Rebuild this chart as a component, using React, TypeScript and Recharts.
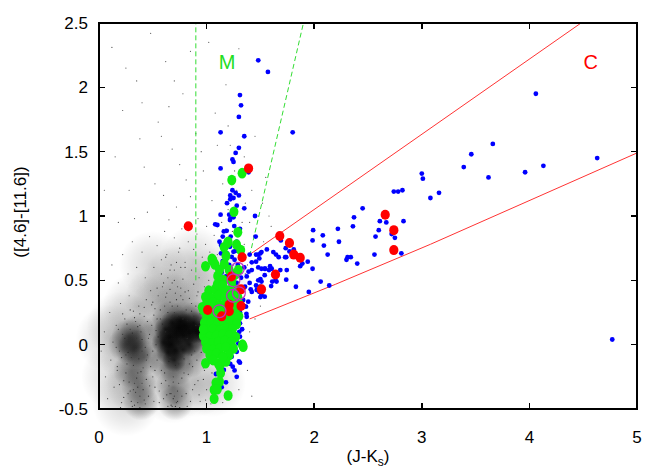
import React from 'react';
import { ScatterChart, Scatter, XAxis, YAxis, ReferenceDot } from 'recharts';

type P = [number, number];
const toPts = (a: P[]) => a.map(([x, y]) => ({ x, y }));

const xTicks = [0, 1, 2, 3, 4, 5];
const yTicks = [-0.5, 0, 0.5, 1, 1.5, 2, 2.5];
const xTickLabels = ['0', '1', '2', '3', '4', '5'];
const yTickLabels = ['-0.5', '0', '0.5', '1', '1.5', '2', '2.5'];
const xDomain: [number, number] = [0, 5];
const yDomain: [number, number] = [-0.5, 2.5];

// diffuse density of the field-star cloud
const softLarge: P[] = [
  [0.15, -0.25], [0.2, 0.15], [0.35, 0.3], [0.38, -0.3], [0.5, -0.1], [0.55, 0.35], [0.72, 0.5], [0.68, -0.35],
  [0.85, 0.35], [0.9, -0.3], [1.02, 0.1], [0.3, -0.05], [0.75, 0.05], [0.1, 0.05], [0.5, 0.62], [0.88, 0.66],
  [1.1, 0.5], [1.05, -0.3], [0.25, -0.45], [0.62, 0.3], [0.8, 0.25],
];
const softMid: P[] = [
  [0.62, 0.0], [0.72, 0.05], [0.84, 0.06], [0.66, 0.2], [0.78, 0.2], [0.64, -0.15], [0.72, -0.18], [0.69, -0.33],
  [0.71, -0.45], [0.84, -0.12], [0.56, 0.1], [0.9, 0.2], [0.95, 0.0], [0.98, 0.12],
  [0.32, -0.04], [0.36, 0.1], [0.3, -0.2], [0.37, -0.32], [0.39, -0.45], [0.25, 0.0], [0.42, -0.1],
  [0.34, -0.02], [0.28, 0.06],
];
const softSmall: P[] = [
  [0.6, 0.02], [0.66, 0.06], [0.72, 0.08], [0.78, 0.07], [0.84, 0.09], [0.9, 0.1], [0.96, 0.1], [1.0, 0.1],
  [0.64, -0.06], [0.71, -0.04], [0.78, -0.04], [0.68, 0.17], [0.76, 0.18], [0.62, 0.12], [0.84, 0.0],
  [0.7, -0.12], [0.8, 0.15], [0.88, 0.17], [0.74, 0.13], [0.67, 0.0],
];
const fieldStars: P[] = [
  [0.12, 2.31], [0.48, 2.42], [0.62, 2.2], [0.35, 2.05], [0.78, 1.95], [0.22, 1.82], [0.55, 1.73], [0.9, 1.64], [0.68, 1.52],
  [0.15, 1.46], [0.42, 1.38], [0.97, 1.35], [0.81, 1.28], [0.28, 1.2], [0.6, 1.16], [1.05, 1.12], [0.72, 1.07], [0.45, 1.03],
  [0.92, 0.98], [0.18, 0.95], [1.42, 1.2], [1.52, 1.1], [1.6, 0.92], [1.35, 1.46], [1.45, 1.62], [1.08, 1.8], [1.18, 2.02],
  [1.02, 2.35], [0.85, 2.28], [1.55, 1.3], [0.65, 1.85], [0.38, 1.6], [0.05, 1.2], [0.25, 2.15], [1.1, 1.55], [1.2, 1.7],
  [1.4, 0.95], [0.95, 1.5], [0.75, 1.4], [0.52, 1.25], [0.85, 1.15], [0.33, 0.98], [0.65, 0.97], [1.15, 1.25], [1.48, 1.0],
  [1.0, 0.92], [0.58, 1.62], [0.7, 2.05], [0.4, 1.88], [1.3, 2.3],
  [0.05, 0.5], [0.12, 0.62], [0.18, 0.48], [0.22, 0.7], [0.27, 0.55], [0.31, 0.8], [0.35, 0.6], [0.4, 0.72], [0.43, 0.52],
  [0.47, 0.84], [0.51, 0.6], [0.54, 0.77], [0.58, 0.66], [0.61, 0.88], [0.63, 0.7], [0.67, 0.62], [0.7, 0.83], [0.74, 0.72],
  [0.77, 0.9], [0.8, 0.64], [0.83, 0.8], [0.86, 0.58], [0.88, 0.74], [0.91, 0.86], [0.93, 0.52], [0.96, 0.68], [0.99, 0.78],
  [1.03, 0.72], [1.07, 0.85], [1.09, 0.48], [1.14, 0.95], [1.2, 1.05], [1.24, 0.88], [1.28, 1.2], [1.32, 0.7], [1.38, 0.62],
  [1.44, 0.85], [1.53, 0.8], [1.58, 1.0], [1.36, 1.1], [1.26, 1.35], [1.22, 1.55],
  [0.02, -0.05], [0.05, 0.1], [0.06, -0.25], [0.08, -0.42], [0.1, 0.25], [0.11, -0.12], [0.13, 0.02], [0.14, -0.33],
  [0.16, 0.15], [0.17, -0.2], [0.19, -0.05], [0.2, 0.32], [0.21, -0.45], [0.22, 0.08], [0.23, -0.28], [0.24, 0.2],
  [0.26, -0.15], [0.27, -0.38], [0.28, 0.38], [0.29, 0.12], [0.31, -0.48], [0.32, 0.26], [0.33, -0.3], [0.34, 0.18],
  [0.36, -0.22], [0.37, 0.3], [0.38, -0.4], [0.39, 0.1], [0.41, -0.18], [0.42, 0.22], [0.43, -0.46], [0.44, 0.35],
  [0.45, -0.08], [0.46, 0.05], [0.47, -0.32], [0.48, 0.42], [0.49, 0.15], [0.5, -0.25], [0.51, -0.44], [0.52, 0.28],
  [0.53, 0.0], [0.54, -0.12], [0.55, 0.38], [0.56, -0.36], [0.57, 0.2], [0.58, -0.2], [0.59, 0.45], [0.6, -0.42],
  [0.61, 0.3], [0.62, -0.28], [0.63, 0.4], [0.64, -0.48], [0.66, 0.33], [0.67, -0.38], [0.68, 0.48], [0.69, -0.25],
  [0.71, 0.4], [0.72, -0.45], [0.73, 0.3], [0.74, -0.3], [0.76, 0.44], [0.77, -0.4], [0.78, 0.35], [0.79, -0.22],
  [0.81, 0.27], [0.82, -0.48], [0.83, 0.42], [0.84, -0.15], [0.86, 0.32], [0.87, -0.35], [0.88, 0.22], [0.89, -0.05],
  [0.91, 0.38], [0.92, -0.28], [0.93, 0.15], [0.94, -0.44], [0.96, 0.3], [0.97, -0.18], [0.98, 0.45], [1.0, -0.35],
  [1.02, 0.5], [1.04, -0.46], [1.06, 0.62], [1.08, -0.4], [1.1, 0.7], [1.12, 0.55], [1.15, -0.45], [1.18, 0.9],
  [1.22, -0.42], [1.25, 0.62], [1.3, -0.35], [1.35, 0.78], [1.38, -0.2], [1.4, 0.1], [1.42, -0.4], [1.45, 0.2],
  [1.5, 0.3], [1.36, 0.55], [1.33, 0.95],
  [0.3, -0.1], [0.35, 0.05], [0.4, -0.05], [0.32, -0.35], [0.36, -0.45], [0.4, -0.3], [0.28, 0.02], [0.25, -0.08],
  [0.44, -0.12], [0.38, 0.15], [0.62, 0.1], [0.66, -0.1], [0.7, 0.25], [0.74, -0.15], [0.78, 0.2], [0.82, 0.05],
  [0.86, -0.08], [0.65, -0.32], [0.7, -0.4], [0.68, -0.48], [0.73, 0.45], [0.64, 0.52], [0.7, 0.58], [0.76, 0.6],
  [0.58, 0.1], [0.54, 0.2], [0.9, 0.15], [0.95, 0.05], [1.0, 0.12], [1.02, -0.1], [0.98, -0.2],
];
const clusterStars: P[] = [
  [0.16, -0.02], [0.18, 0.12], [0.19, -0.31], [0.21, -0.1], [0.22, 0.24], [0.23, -0.41], [0.24, 0.05], [0.25, -0.22],
  [0.26, 0.16], [0.27, -0.06], [0.28, -0.29], [0.29, 0.27], [0.3, -0.44], [0.31, 0.09], [0.32, -0.16], [0.33, 0.21],
  [0.34, -0.37], [0.35, -0.26], [0.36, 0.14], [0.37, -0.11], [0.38, 0.24], [0.39, -0.21], [0.4, 0.04], [0.41, -0.35],
  [0.42, 0.29], [0.43, -0.02], [0.44, -0.27], [0.45, 0.18], [0.46, -0.4], [0.47, 0.08], [0.48, -0.17], [0.49, 0.31],
  [0.5, -0.05], [0.51, 0.23], [0.52, -0.33], [0.53, 0.11], [0.17, -0.17], [0.2, -0.49], [0.33, -0.47], [0.38, -0.49],
  [0.42, -0.43], [0.29, -0.36], [0.36, -0.33],
  [0.5, 0.33], [0.52, -0.2], [0.54, 0.44], [0.55, 0.06], [0.56, -0.45], [0.57, 0.27], [0.58, -0.3], [0.59, 0.16],
  [0.6, 0.48], [0.61, -0.22], [0.62, 0.37], [0.63, -0.39], [0.64, 0.25], [0.65, -0.13], [0.66, 0.43], [0.67, -0.47],
  [0.68, 0.3], [0.69, -0.29], [0.7, 0.5], [0.71, -0.16], [0.72, 0.35], [0.73, -0.36], [0.74, 0.22], [0.75, -0.49],
  [0.76, 0.38], [0.77, -0.26], [0.78, 0.51], [0.79, -0.11], [0.8, 0.41], [0.81, -0.38], [0.82, 0.19], [0.83, -0.23],
  [0.84, 0.36], [0.85, -0.44], [0.86, 0.26], [0.87, -0.17], [0.88, 0.47], [0.89, -0.31], [0.9, 0.3], [0.91, -0.12],
  [0.92, 0.41], [0.93, -0.39], [0.94, 0.24], [0.95, -0.06], [0.96, 0.37], [0.97, -0.27], [0.98, 0.19], [0.99, -0.43],
  [1.0, 0.32], [1.01, 0.03], [1.03, 0.24], [1.05, -0.22], [1.07, 0.38], [1.09, -0.02], [1.11, 0.47], [1.13, -0.34],
  [0.66, 0.58], [0.72, 0.64], [0.58, 0.55], [0.8, 0.6], [0.62, 0.68], [0.75, 0.75], [0.69, -0.42], [0.71, -0.48],
  [0.66, -0.38], [0.73, -0.44],
];

const blueStars: P[] = [
  [1.48, 2.21], [1.57, 2.12], [1.8, 1.65], [4.06, 1.95], [3.66, 1.56], [3.46, 1.48], [3.39, 1.38], [3.62, 1.3],
  [3.96, 1.34], [4.13, 1.39], [4.63, 1.45], [3.08, 1.14], [3.16, 1.18], [4.77, 0.04],
  [3.0, 1.33], [3.01, 1.29], [2.74, 1.19], [2.78, 1.19], [2.82, 1.2], [2.45, 1.06], [2.37, 0.99], [2.36, 0.92],
  [2.61, 0.96], [2.67, 0.95], [2.83, 0.96], [2.6, 0.89], [2.57, 0.84], [2.72, 0.86], [2.75, 0.83], [2.81, 0.71],
  [2.56, 0.7], [2.31, 0.68], [2.3, 0.66], [2.34, 0.68], [2.4, 0.63], [2.22, 0.9], [2.23, 0.8], [2.08, 0.85],
  [2.09, 0.77], [1.99, 0.89], [1.985, 0.81], [2.125, 0.7], [2.06, 0.49], [2.14, 0.46], [1.95, 0.41], [1.985, 0.59],
  [1.94, 0.645], [1.89, 0.63], [1.87, 0.61], [1.83, 0.45], [1.81, 0.74], [1.77, 0.725], [1.735, 0.75], [1.74, 0.68],
  [1.745, 0.58], [1.74, 0.505], [1.685, 0.58], [1.65, 0.49], [1.69, 0.81], [1.62, 0.72], [1.645, 0.7], [1.67, 0.68],
  [1.73, 0.68], [1.59, 0.61], [1.605, 0.59], [1.58, 0.58], [1.61, 0.49], [1.545, 0.59], [1.51, 0.72], [1.56, 0.74],
  [1.48, 0.7], [1.46, 0.7], [1.456, 0.84],
  [1.45, 1.0], [1.5, 0.71], [1.49, 0.67], [1.48, 0.6], [1.51, 0.59], [1.54, 0.54], [1.5, 0.51], [1.46, 0.46],
  [1.49, 0.41], [1.5, 0.37], [1.41, 0.43], [1.42, 0.41], [1.64, 0.5], [1.6, 0.455], [1.54, 0.59], [1.42, 0.64],
  [1.46, 0.645], [1.39, 0.567], [1.42, 0.58], [1.373, 0.53], [1.48, 0.5], [1.51, 0.49], [1.4, 0.48], [1.357, 0.45],
  [1.496, 0.45], [1.466, 0.425], [1.51, 0.386], [1.54, 0.373], [1.34, 0.347], [1.387, 0.334], [1.366, 0.295],
  [1.373, 0.217], [1.37, 0.24], [1.4, 0.7],
  [1.31, 1.94], [1.32, 1.86], [1.3, 1.77], [1.13, 1.65], [1.35, 1.62], [1.3, 1.53], [1.27, 1.49], [1.24, 1.44],
  [1.25, 1.42], [1.13, 1.37], [1.39, 1.34], [1.24, 1.2], [1.27, 1.18], [1.22, 1.16], [1.3, 1.16], [1.22, 1.13],
  [1.25, 1.14], [1.19, 1.1], [1.28, 1.08], [1.35, 1.06], [1.13, 1.01], [1.21, 1.01], [1.25, 0.99], [1.22, 0.98],
  [1.1, 0.93], [1.217, 0.968], [1.257, 0.922], [1.187, 0.885], [1.15, 0.84], [1.224, 0.84], [1.08, 0.935],
  [1.134, 0.774], [1.217, 0.761], [1.25, 0.722], [1.134, 0.71], [1.17, 0.683], [1.233, 0.683], [1.15, 0.65],
  [1.21, 0.62], [1.26, 0.66], [1.14, 0.56], [1.18, 0.53], [1.233, 0.567], [1.295, 0.217], [1.31, 0.166],
  [1.28, 0.14], [1.304, 0.1], [1.31, 0.062], [1.295, 0.01], [1.248, -0.028], [1.28, -0.055], [1.2, -0.055],
  [1.233, -0.094], [1.31, -0.14], [1.243, -0.171], [1.16, -0.197], [1.087, -0.228], [1.125, -0.171], [1.18, -0.293],
  [1.22, 0.01], [1.26, 0.04], [1.3, -0.13], [1.28, -0.25], [1.14, -0.33], [1.27, 0.3], [1.3, 0.38], [1.25, 0.44],
  [1.32, 0.52], [1.28, 0.48], [1.19, 0.4], [1.31, 0.25], [1.29, 0.62], [1.2, 0.78], [1.28, 0.8], [1.16, 0.88],
  [1.31, 0.9], [1.12, 0.8], [1.27, 0.73], [1.19, 0.71], [1.35, 0.6], [1.33, 0.44], [1.26, 0.35], [1.23, 0.2],
  [1.28, 0.08], [1.22, -0.15], [1.26, -0.2], [1.19, -0.12], [1.33, 0.12], [1.35, 0.3],
];

const greenStars: P[] = [
  [1.02, 0.42], [1.08, 0.43], [1.14, 0.41], [1.2, 0.42], [1.26, 0.43],
  [0.99, 0.37], [1.05, 0.36], [1.11, 0.38], [1.17, 0.37], [1.23, 0.36], [1.29, 0.37],
  [1.0, 0.32], [1.06, 0.33], [1.12, 0.31], [1.18, 0.32], [1.24, 0.33], [1.3, 0.32],
  [0.97, 0.27], [1.03, 0.27], [1.09, 0.28], [1.15, 0.26], [1.21, 0.27], [1.27, 0.28],
  [1.0, 0.22], [1.06, 0.21], [1.12, 0.22], [1.18, 0.23], [1.24, 0.21], [1.3, 0.22],
  [0.98, 0.17], [1.04, 0.17], [1.1, 0.16], [1.16, 0.18], [1.22, 0.17], [1.28, 0.16],
  [1.0, 0.12], [1.06, 0.12], [1.12, 0.11], [1.18, 0.13], [1.24, 0.12],
  [0.97, 0.07], [1.03, 0.06], [1.09, 0.07], [1.15, 0.08], [1.21, 0.07], [1.27, 0.06],
  [0.99, 0.02], [1.05, 0.01], [1.11, 0.02], [1.17, 0.03], [1.23, 0.02],
  [1.0, -0.03], [1.06, -0.04], [1.12, -0.03], [1.18, -0.02], [1.25, -0.03],
  [1.03, -0.08], [1.09, -0.07], [1.15, -0.09], [1.21, -0.08],
  [0.99, 0.61], [1.05, 0.667], [1.06, 0.65], [1.163, 0.757], [1.18, 0.69], [1.2, 0.8], [1.278, 0.778], [1.29, 0.873],
  [1.254, 1.033], [1.234, 1.279], [1.33, 1.333], [1.196, 0.792], [1.317, 0.735], [1.057, 0.652], [1.078, 0.624],
  [1.165, 0.627], [1.295, 0.58], [1.103, 0.533], [1.155, 0.502], [1.233, 0.489], [1.1, 0.47], [1.15, 0.46],
  [1.27, 0.55], [1.21, 0.58], [1.12, 0.58], [1.24, 0.52], [0.96, 0.29], [0.97, 0.12],
  [1.333, 0.0], [0.99, -0.144], [1.11, -0.146], [1.123, -0.167], [1.13, -0.22], [1.12, -0.288], [1.087, -0.296],
  [1.07, -0.35], [1.1, -0.347], [1.07, -0.42], [1.2, -0.395], [1.34, -0.016], [1.06, -0.12], [1.18, -0.13], [1.15, -0.1],
];

const redStars: P[] = [
  [0.83, 0.92], [1.39, 1.37], [1.68, 0.845], [1.77, 0.79], [1.81, 0.7], [1.87, 0.675], [1.64, 0.545], [1.51, 0.43],
  [2.66, 1.01], [2.74, 0.89], [2.74, 0.735], [1.33, 0.68], [1.23, 0.53], [1.32, 0.43], [1.32, 0.3], [1.21, 0.31],
  [1.21, 0.26], [1.14, 0.22], [1.01, 0.27],
];

const magentaRings: P[] = [[1.29, 0.59], [1.25, 0.5], [1.245, 0.38], [1.3, 0.4], [1.12, 0.26]];

const mLeftBoundary: P[] = [[0.9, 0.5], [0.9, 2.5]];
const mRightBoundary: P[] = [[1.4, 0.69], [1.9, 2.5]];
const cUpperBoundary: P[] = [[1.4, 0.7], [4.48, 2.5]];
const cLowerBoundary: P[] = [[1.4, 0.2], [2.2, 0.47], [3.08, 0.78], [5.0, 1.49]];

const FONT = '"Liberation Sans", Arial, Helvetica, sans-serif';

// chart layout
const W = 670, H = 470;
const M = { top: 23, right: 33 };
const Y_AXIS_W = 99, X_AXIS_H = 61;
const PLOT = { x: Y_AXIS_W, y: M.top, w: W - Y_AXIS_W - M.right, h: H - M.top - X_AXIS_H };

const soft = (r: number, op: number) => (p: any) => (
  <g>
    <defs>
      <radialGradient id="softBlob">
        <stop offset="0%" stopColor="#000" stopOpacity={0.9} />
        <stop offset="60%" stopColor="#000" stopOpacity={0.4} />
        <stop offset="100%" stopColor="#000" stopOpacity={0} />
      </radialGradient>
    </defs>
    <circle cx={p.cx} cy={p.cy} r={r} fill="url(#softBlob)" fillOpacity={op} />
  </g>
);
const dot = (r: number, fill: string, op = 1) => (p: any) =>
  <circle cx={p.cx} cy={p.cy} r={r} fill={fill} fillOpacity={op} />;
const ell = (rx: number, ry: number, fill: string) => (p: any) =>
  <ellipse cx={p.cx} cy={p.cy} rx={rx} ry={ry} fill={fill} />;
// ring drawn as a filled annulus (even-odd) so it does not rely on stroke rendering
const ring = (p: any) => {
  const { cx, cy } = p;
  const R = 7, r = 5.8;
  const d = `M ${cx - R} ${cy} a ${R} ${R} 0 1 0 ${2 * R} 0 a ${R} ${R} 0 1 0 ${-2 * R} 0 Z ` +
    `M ${cx - r} ${cy} a ${r} ${r} 0 1 0 ${2 * r} 0 a ${r} ${r} 0 1 0 ${-2 * r} 0 Z`;
  return <path d={d} fill="#c030c0" fillRule="evenodd" />;
};
const none = () => <g />;

const BottomTick = (p: any) => {
  const i = xTicks.indexOf(p.payload.value);
  return (
    <text x={p.x} y={p.y + 26} textAnchor="middle" fontSize={17} fontFamily={FONT} fill="#000">{xTickLabels[i]}</text>
  );
};
const LeftTick = (p: any) => {
  const i = yTicks.indexOf(p.payload.value);
  return (
    <text x={p.x - 3} y={p.y + 6} textAnchor="end" fontSize={17} fontFamily={FONT} fill="#000">{yTickLabels[i]}</text>
  );
};

const XTitle = (props: any) => {
  const vb = props.viewBox;
  return (
    <text x={vb.x + vb.width / 2} y={vb.y + 53} textAnchor="middle" fontSize={17} fontFamily={FONT} fill="#000">
      (J-K<tspan fontSize={12} dy={4}>s</tspan><tspan dy={-4}>)</tspan>
    </text>
  );
};
const YTitle = (props: any) => {
  const vb = props.viewBox;
  const cx = 26;
  const cy = vb.y + vb.height / 2 - 4;
  return (
    <text x={cx} y={cy} transform={`rotate(-90, ${cx}, ${cy})`} textAnchor="middle" fontSize={17} fontFamily={FONT} fill="#000">
      ([4.6]-[11.6])
    </text>
  );
};

// gnuplot-style border with inward ticks, drawn as filled rectangles (HTML boxes)
const LW = 1.5, TL = 6;
const box = (left: number, top: number, width: number, height: number, key: string) => (
  <div key={key} style={{ position: 'absolute', left, top, width, height, background: '#000' }} />
);
const Frame = () => {
  const sx = (v: number) => PLOT.x + ((v - xDomain[0]) / (xDomain[1] - xDomain[0])) * PLOT.w;
  const sy = (v: number) => PLOT.y + PLOT.h - ((v - yDomain[0]) / (yDomain[1] - yDomain[0])) * PLOT.h;
  const innerX = xTicks.filter((t) => t > xDomain[0] && t < xDomain[1]);
  const innerY = yTicks.filter((t) => t > yDomain[0] && t < yDomain[1]);
  const h = LW / 2;
  return (
    <div style={{ position: 'absolute', left: 0, top: 0, width: W, height: H, zIndex: 20, pointerEvents: 'none' }}>
      {box(PLOT.x - h, PLOT.y - h, PLOT.w + LW, LW, 'top')}
      {box(PLOT.x - h, PLOT.y + PLOT.h - h, PLOT.w + LW, LW, 'bottom')}
      {box(PLOT.x - h, PLOT.y - h, LW, PLOT.h + LW, 'left')}
      {box(PLOT.x + PLOT.w - h, PLOT.y - h, LW, PLOT.h + LW, 'right')}
      {innerX.map((t) => box(sx(t) - h, PLOT.y + PLOT.h - TL, LW, TL, `xb${t}`))}
      {innerX.map((t) => box(sx(t) - h, PLOT.y, LW, TL, `xt${t}`))}
      {innerY.map((t) => box(PLOT.x, sy(t) - h, TL, LW, `yl${t}`))}
      {innerY.map((t) => box(PLOT.x + PLOT.w - TL, sy(t) - h, TL, LW, `yr${t}`))}
    </div>
  );
};

const mLabelPos = { x: 1.19, y: 2.2 };
const cLabelPos = { x: 4.57, y: 2.2 };

export default function App() {
  return (
    <div style={{ position: 'absolute', left: 0, top: 0, width: W, height: H, background: '#fff' }}>
      <div style={{ position: 'absolute', left: 0, top: 0, zIndex: 1 }}>
        <ScatterChart width={W} height={H} margin={{ top: M.top, right: M.right, bottom: 0, left: 0 }}>
          <XAxis type="number" dataKey="x" domain={xDomain} ticks={xTicks}
            orientation="bottom" height={X_AXIS_H} stroke="#000" tickLine={false}
            axisLine={false} tick={<BottomTick />} label={<XTitle />} />
          <YAxis type="number" dataKey="y" domain={yDomain} ticks={yTicks}
            orientation="left" width={Y_AXIS_W} stroke="#000" tickLine={false}
            axisLine={false} tick={<LeftTick />} label={<YTitle />} />

          <Scatter data={toPts(softLarge)} shape={soft(34, 0.18)} isAnimationActive={false} />
          <Scatter data={toPts(softMid)} shape={soft(18, 0.45)} isAnimationActive={false} />
          <Scatter data={toPts(softSmall)} shape={soft(12, 0.8)} isAnimationActive={false} />
          <Scatter data={toPts(fieldStars)} shape={dot(0.6, '#333', 0.85)} isAnimationActive={false} />
          <Scatter data={toPts(clusterStars)} shape={dot(0.6, '#222', 0.9)} isAnimationActive={false} />

          <Scatter data={toPts(mLeftBoundary)} shape={none} line={{ stroke: '#33dd33', strokeWidth: 1, strokeDasharray: '5 3' }} isAnimationActive={false} />
          <Scatter data={toPts(mRightBoundary)} shape={none} line={{ stroke: '#33dd33', strokeWidth: 1, strokeDasharray: '5 3' }} isAnimationActive={false} />
          <Scatter data={toPts(cUpperBoundary)} shape={none} line={{ stroke: '#ff3333', strokeWidth: 1 }} isAnimationActive={false} />
          <Scatter data={toPts(cLowerBoundary)} shape={none} line={{ stroke: '#ff3333', strokeWidth: 1 }} isAnimationActive={false} />

          <Scatter data={toPts(blueStars)} shape={dot(2.4, '#0000ff')} isAnimationActive={false} />
          <Scatter data={toPts(greenStars)} shape={ell(4.5, 5.3, '#11ee11')} isAnimationActive={false} />
          <Scatter data={toPts(redStars)} shape={ell(4.6, 5, '#ff0000')} isAnimationActive={false} />
          <Scatter data={toPts(magentaRings)} shape={ring} isAnimationActive={false} />

          <ReferenceDot x={mLabelPos.x} y={mLabelPos.y} r={0} stroke="none"
            label={{ value: 'M', position: 'center', fill: '#22dd22', fontSize: 20, fontFamily: FONT }} />
          <ReferenceDot x={cLabelPos.x} y={cLabelPos.y} r={0} stroke="none"
            label={{ value: 'C', position: 'center', fill: '#ff0000', fontSize: 20, fontFamily: FONT }} />
        </ScatterChart>
      </div>
      <Frame />
    </div>
  );
}
